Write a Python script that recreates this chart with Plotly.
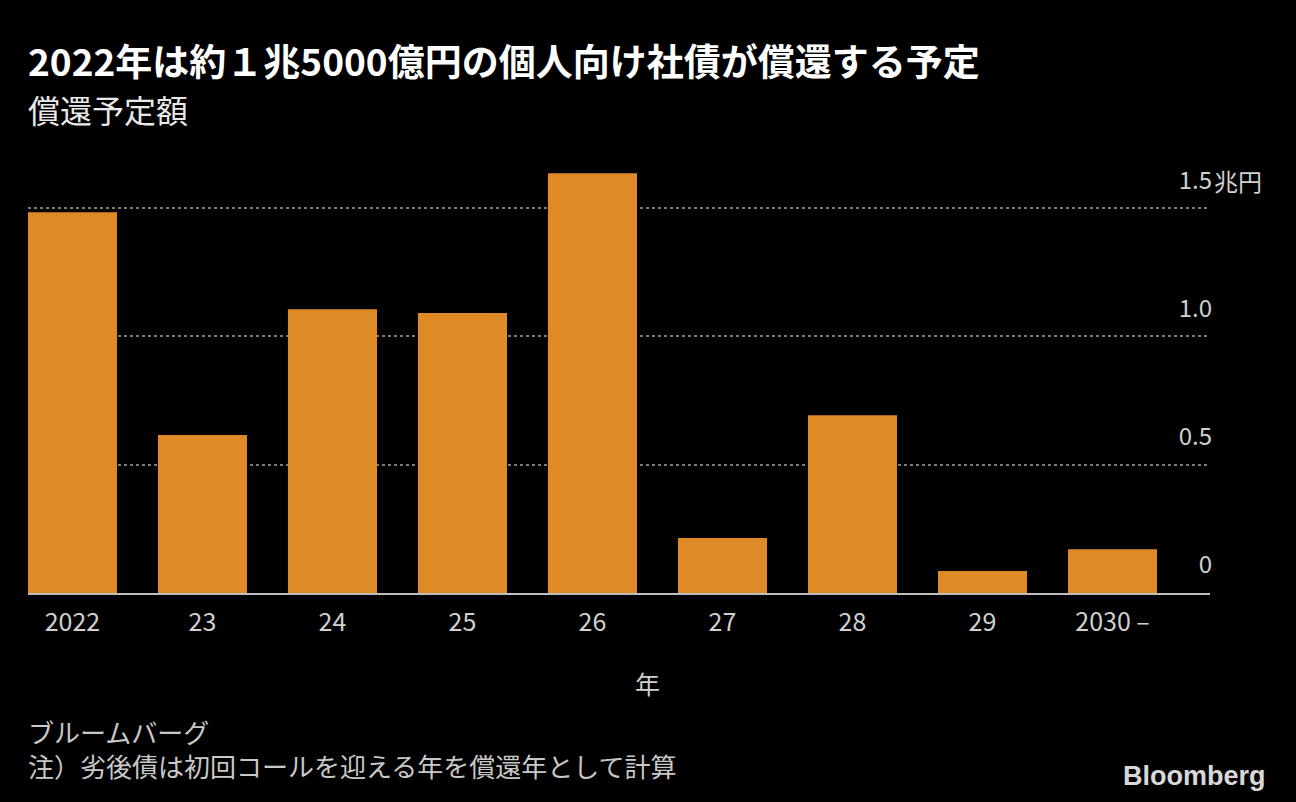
import plotly.graph_objects as go

# 償還予定額 (兆円)
years = ["2022", "23", "24", "25", "26", "27", "28", "29", "2030 –"]
amounts = [1.484, 0.616, 1.106, 1.091, 1.636, 0.214, 0.693, 0.086, 0.171]

tick_vals = [0, 0.5, 1.0, 1.5]
tick_text = ["0", "0.5", "1.0", "1.5"]
unit_label = "兆円"

FONT = "Noto Sans CJK JP"
TXT = "#d0d0d0"

fig = go.Figure()
fig.add_trace(go.Bar(
    x=list(range(len(years))),
    y=amounts,
    marker=dict(color="#DE8A26", line=dict(width=0)),
    hoverinfo="skip",
))


def note(text, y, yshift, size, color=TXT, x=-0.002, xanchor="left", xshift=0, bold=False, family=FONT):
    return dict(
        text=f"<b>{text}</b>" if bold else text,
        xref="paper", yref="paper", x=x, y=y, xshift=xshift, yshift=yshift,
        xanchor=xanchor, yanchor="middle", showarrow=False, align="left",
        font=dict(size=size, color=color, family=family),
    )


fig.update_layout(
    width=1296,
    height=802,
    paper_bgcolor="#000000",
    plot_bgcolor="#000000",
    margin=dict(l=28, r=86, t=144, b=209),
    bargap=0.315,
    showlegend=False,
    font=dict(family=FONT, color=TXT),
    xaxis=dict(
        tickmode="array",
        tickvals=list(range(len(years))),
        ticktext=years,
        range=[-0.342, 8.75],
        showgrid=False,
        zeroline=False,
        showline=True,
        linecolor="#bdbdbd",
        linewidth=1.5,
        ticks="",
        ticklabelstandoff=6,
        tickfont=dict(size=25, color=TXT),
    ),
    yaxis=dict(
        side="right",
        range=[0, 1.75],
        tickmode="array",
        tickvals=tick_vals,
        ticktext=tick_text,
        ticklabelposition="inside",
        ticklabeloverflow="allow",
        ticklabelshift=-28,
        ticklabelstandoff=-5,
        showgrid=True,
        gridcolor="#7a7a7a",
        griddash="dot",
        gridwidth=1.6,
        zeroline=False,
        showline=False,
        ticks="",
        tickfont=dict(size=24, color=TXT),
    ),
    annotations=[
        note("2022年は約１兆5000億円の個人向け社債が償還する予定", 1, 84, 37, color="#ffffff", bold=True),
        note("償還予定額", 1, 35, 32, color="#e8e8e8"),
        note("年", 0, -90, 25, x=0.5245, xanchor="center"),
        note("ブルームバーグ<br>注）劣後債は初回コールを迎える年を償還年として計算", 0, -155, 26, color="#c8c8c8"),
        note("Bloomberg", 0, -183, 27, color="#d8d8d8", x=1.0, xanchor="right", xshift=58,
             bold=True, family="Liberation Sans"),
        dict(text=unit_label, xref="paper", yref="y", x=1.0, y=1.5, xshift=2, yshift=28,
             xanchor="left", yanchor="middle", showarrow=False,
             font=dict(size=24, color=TXT, family=FONT)),
    ],
)

fig.write_html("out.html", config={"displayModeBar": False},
               post_script="document.body.style.margin='0';")
